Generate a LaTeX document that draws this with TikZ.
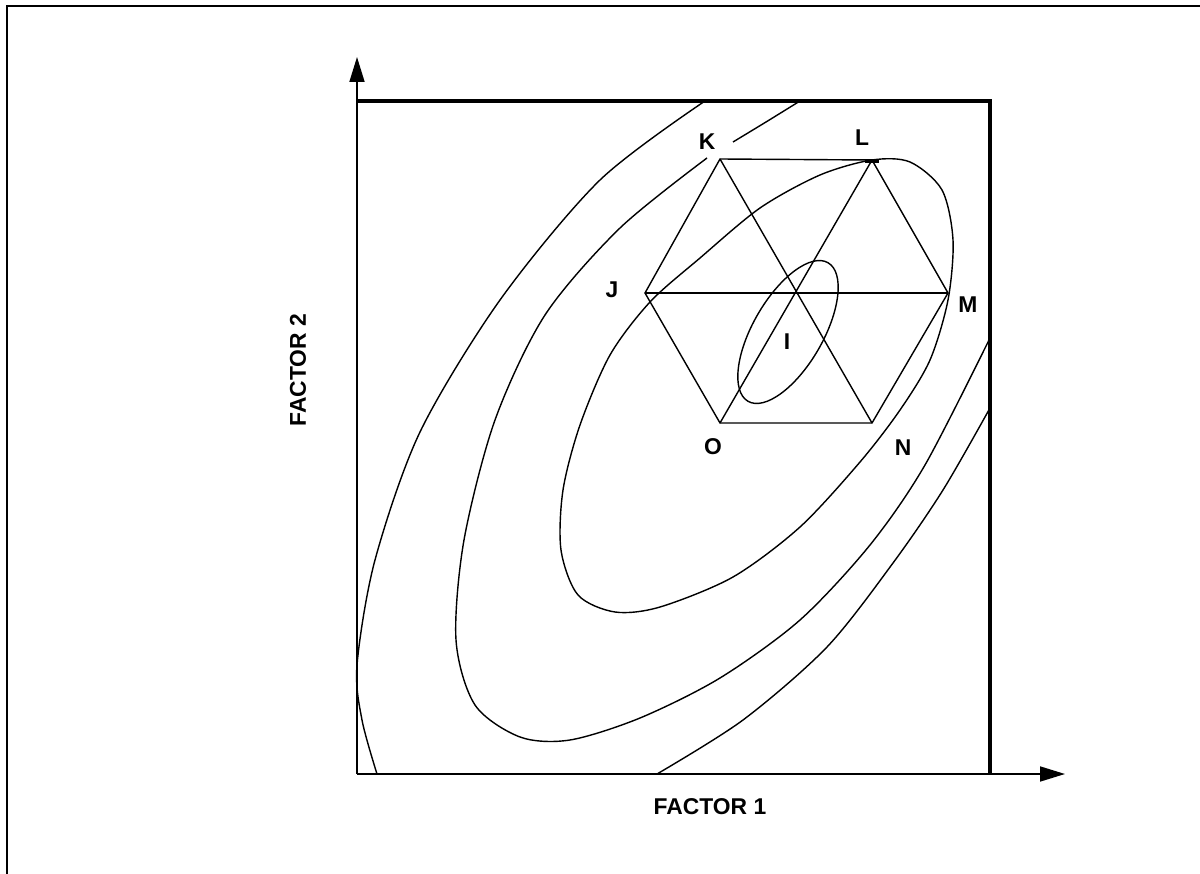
\documentclass[tikz,border=0pt]{standalone}
\usepackage{fontspec}
\setmainfont{Liberation Sans}
\usetikzlibrary{arrows.meta}

\tikzset{
  contour/.style={line width=0.8pt},
  hexline/.style={line width=0.8pt},
  boxline/.style={line width=2pt},
  axisline/.style={line width=1pt, -{Triangle[length=0.5cm,width=0.3cm]}},
  ptlabel/.style={font=\fontsize{13}{15}\selectfont\bfseries, inner sep=0pt},
}

\begin{document}
\begin{tikzpicture}[x=0.02cm, y=-0.02cm]
  \useasboundingbox (0,0) rectangle (1200,874);
  \draw[line width=1.3pt] (1200,6) -- (7,6) -- (7,874);

  \coordinate (orig) at (357,774);
  \coordinate (ytip) at (357,57);
  \coordinate (xtip) at (1065,774);
  \coordinate (boxtl) at (357,101);
  \coordinate (boxtr) at (990,101);
  \coordinate (boxbr) at (990,774);
  \draw[axisline] (orig) -- (ytip);
  \draw[axisline] (orig) -- (xtip);
  \draw[boxline] (boxtl) -- (boxtr) -- (boxbr);

  \coordinate (K) at (720,159);
  \coordinate (L) at (872,160);
  \coordinate (M) at (948,293);
  \coordinate (N) at (872,423);
  \coordinate (O) at (720,423);
  \coordinate (J) at (645,293);
  \draw[hexline] (K) -- (L) -- (M) -- (N) -- (O) -- (J) -- cycle;
  \draw[hexline] (K) -- (N);
  \draw[hexline] (L) -- (O);
  \draw[hexline] (J) -- (M);
  \draw[line width=1.8pt] (865,161) -- (879,161);

  \draw[contour, rotate around={60:(788,332)}] (788,332) ellipse [x radius=80, y radius=35];
  \draw[contour] plot[smooth cycle] coordinates {
    (872,160) (910,162) (942,190) (953,240) (948,300) (930,360) (900,410)
    (860,462) (800,527) (733,577) (660,607) (615,612) (578,595) (561,550)
    (563,490) (580,425) (610,355) (650,302) (700,258) (760,208) (820,175)};
  \draw[contour] plot[smooth] coordinates {(800,101) (766,122) (733,142)};
  \draw[contour] plot[smooth] coordinates {
    (707,158) (620,228) (545,315) (495,420) (464,540) (456,640) (475,705)
    (520,737) (570,740) (640,718) (720,678) (800,620) (870,545) (925,465)
    (990,338)};
  \draw[contour] plot[smooth] coordinates {
    (705,101) (600,180) (500,300) (420,432) (375,560) (357,665) (362,720)
    (377,774)};
  \draw[contour] plot[smooth] coordinates {
    (657,774) (743,720) (827,647) (893,563) (943,490) (990,408)};

  \node[ptlabel] (labK) at (707,142) {K};
  \node[ptlabel] (labL) at (862,138) {L};
  \node[ptlabel] (labM) at (968,305) {M};
  \node[ptlabel] (labN) at (903,448) {N};
  \node[ptlabel] (labO) at (713,447) {O};
  \node[ptlabel] (labJ) at (612,290) {J};
  \node[ptlabel] (labI) at (787,342) {I};
  \node[ptlabel] (fac1) at (710,807) {FACTOR 1};
  \node[ptlabel, rotate=90] (fac2) at (298,370) {FACTOR 2};
\end{tikzpicture}
\end{document}
